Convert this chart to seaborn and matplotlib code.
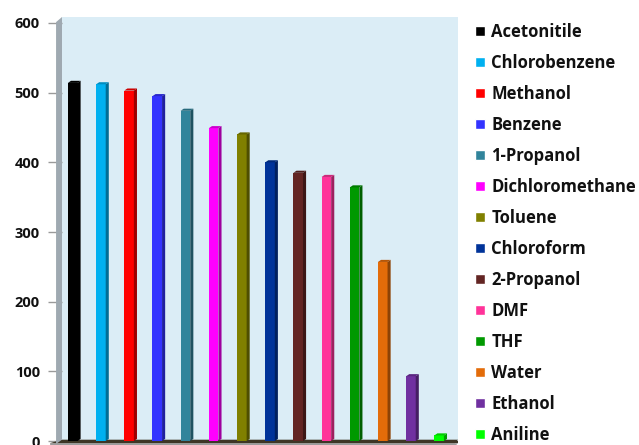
import matplotlib
matplotlib.use("Agg")
import matplotlib.pyplot as plt
from matplotlib.patches import Polygon
import seaborn as sns
import pandas as pd

solvents = ["Acetonitile", "Chlorobenzene", "Methanol", "Benzene", "1-Propanol",
            "Dichloromethane", "Toluene", "Chloroform", "2-Propanol", "DMF",
            "THF", "Water", "Ethanol", "Aniline"]
values = [514, 512, 503, 495, 474, 449, 440, 400, 385, 379, 364, 257, 93, 8]
colors = ["#000000", "#00B0F0", "#FF0000", "#3333FF", "#31849B", "#FF00FF",
          "#808000", "#003399", "#632523", "#FF3399", "#009900", "#E36C09",
          "#7030A0", "#00FF00"]
yticks = [0, 100, 200, 300, 400, 500, 600]

df = pd.DataFrame({"solvent": solvents, "value": values})

sns.set_theme(style="white")
plt.rcParams["font.family"] = ["Open Sans", "DejaVu Sans"]

fig = plt.figure(figsize=(6.39, 4.45), dpi=100)
ax = fig.add_axes([62 / 639, 1.9 / 445, 396 / 639, 426.1 / 445])
ax.set_facecolor("#DBEDF6")

sns.barplot(data=df, x="solvent", y="value", hue="solvent", palette=colors,
            order=solvents, hue_order=solvents, dodge=False, width=0.34,
            legend=True, ax=ax, saturation=1, zorder=3)


def shade(c, f):
    r, g, b = matplotlib.colors.to_rgb(c)
    return (r * f, g * f, b * f)


# pseudo-3D: darker side face and a lighter cap on each bar
depth, rise = 0.11, 3.0
for p, c in zip(ax.patches, colors):
    x0, w, h = p.get_x(), p.get_width(), p.get_height()
    p.set_edgecolor("none")
    side = Polygon([(x0 + w, 0), (x0 + w + depth, rise), (x0 + w + depth, h + rise), (x0 + w, h)],
                   closed=True, facecolor=shade(c, 0.62), edgecolor="none", zorder=3)
    top = Polygon([(x0, h), (x0 + depth, h + rise), (x0 + w + depth, h + rise), (x0 + w, h)],
                  closed=True, facecolor=shade(c, 0.8), edgecolor="none", zorder=3)
    ax.add_patch(side)
    ax.add_patch(top)

ax.set_xlim(-0.38, 13.67)
ax.set_ylim(-3, 608.6)
ax.set_xlabel("")
ax.set_ylabel("")
ax.set_xticks([])
ax.set_yticks(yticks)
ax.set_yticklabels([str(t) for t in yticks], fontsize=10.5, fontweight="bold", color="#111111")
ax.tick_params(axis="y", length=10, width=1, color="#9A9A9A", pad=6, left=True)
for s in ax.spines.values():
    s.set_visible(False)

# floor slab
ax.axhspan(-3, 0.5, color="#3E3626", zorder=2)
ax.add_patch(Polygon([(-0.03, 0.0), (1.0, 0.0), (0.995, -0.005), (-0.03, -0.005)],
                     closed=True, transform=ax.transAxes, facecolor="#9C9C9C",
                     edgecolor="none", clip_on=False, zorder=2))
ax.add_patch(Polygon([(-0.03, 0.0), (0.0, 0.008), (1.0, 0.008), (0.992, 0.0)],
                     closed=True, transform=ax.transAxes, facecolor="#3E3626",
                     edgecolor="none", clip_on=False, zorder=2))

# side wall on the left
ax.add_patch(Polygon([(-0.015, -0.002), (0.0, 0.008), (0.0, 1.0), (-0.015, 0.988)],
                     closed=True, transform=ax.transAxes, facecolor="#9FA9B1",
                     edgecolor="none", clip_on=False, zorder=4))

leg = ax.legend(loc="upper left", bbox_to_anchor=(475 / 639, 422 / 445),
                bbox_transform=fig.transFigure, frameon=False,
                handlelength=0.6, handleheight=0.6, handletextpad=0.38,
                labelspacing=0.78, borderpad=0, borderaxespad=0,
                prop={"family": ["Open Sans", "DejaVu Sans"], "weight": "bold", "size": 12})
for t in leg.get_texts():
    t.set_color("#111111")

fig.savefig("out.png", dpi=100)
